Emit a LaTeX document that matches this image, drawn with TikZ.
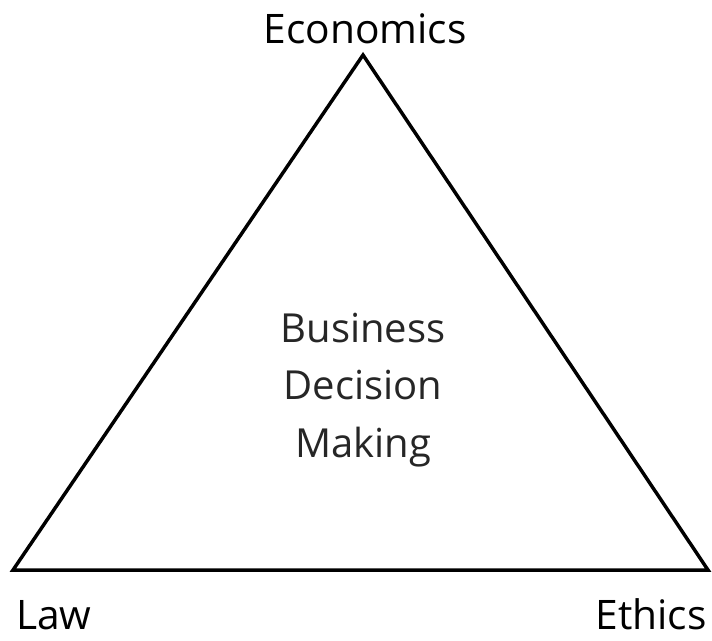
\documentclass[tikz,border=0pt]{standalone}
\usepackage{fontspec}
\setmainfont{Open Sans}
\begin{document}
\begin{tikzpicture}[x=0.75pt,y=-0.75pt,
  lbl/.style={font=\fontsize{30.5pt}{36pt}\selectfont, text=black, inner sep=0pt},
  mid/.style={font=\fontsize{30pt}{43pt}\selectfont, text=black!85, align=center, inner sep=0pt},
  tri/.style={draw=black, line width=2.6pt, line join=miter}]
\useasboundingbox (0,0) rectangle (712,640);
\coordinate (apex) at (363,55);
\coordinate (bl) at (13,570);
\coordinate (br) at (708,570);
\draw[tri] (apex) -- (bl) -- (br) -- cycle;
\node[lbl, anchor=base] (econ) at (365,43) {Economics};
\node[lbl, anchor=base west] (law) at (16,629) {Law};
\node[lbl, anchor=base east] (eth) at (707,629) {Ethics};
\node[mid] (bdm) at (363,390) {Business\\Decision\\Making};
\end{tikzpicture}
\end{document}
